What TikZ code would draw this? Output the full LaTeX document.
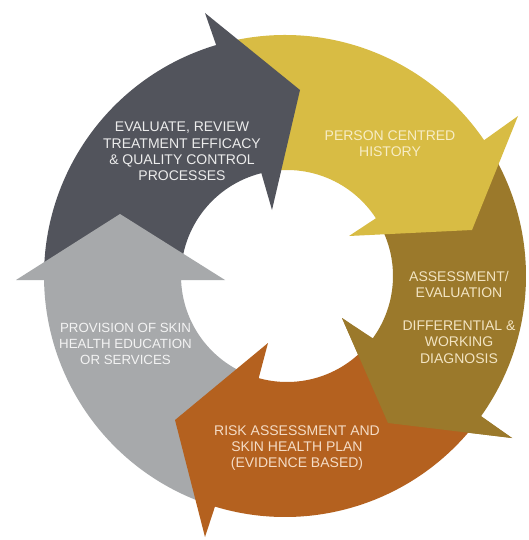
\documentclass[tikz,border=0pt]{standalone}
\usepackage{fontspec}
\setmainfont{Liberation Sans}
\usetikzlibrary{calc}
\definecolor{cdark}{HTML}{52545C}
\definecolor{cyellow}{HTML}{D8BC44}
\definecolor{cbrown}{HTML}{9B792B}
\definecolor{corange}{HTML}{B4611F}
\definecolor{cgrey}{HTML}{A7A9AB}
\definecolor{tdark}{HTML}{ECECEC}
\definecolor{tyellow}{HTML}{F7EDC6}
\definecolor{tbrown}{HTML}{F2E4C2}
\definecolor{torange}{HTML}{F4DCC6}
\definecolor{tgrey}{HTML}{F3F3F3}
\begin{document}
\begin{tikzpicture}[x=1pt,y=1pt,
  lbl/.style={font=\fontsize{14}{16.4}\selectfont, align=center, inner sep=0pt}]
\useasboundingbox (0,0) rectangle (529,-540);
\fill[white] (0,0) rectangle (529,-540);
\coordinate (C) at (285,-276);
\coordinate (Ci) at (287,-276);
% brown arrow (right)
\fill[cbrown] ($(C)+(30:241pt)$) arc[start angle=30, end angle=-35.6, radius=241pt]
  -- (512,-438) -- (388,-423) -- (342,-318) -- ($(Ci)+(-36:106pt)$)
  arc[start angle=-36, end angle=30, radius=106pt] -- cycle;
% yellow arrow (top right)
\fill[cyellow] ($(C)+(102:241pt)$) arc[start angle=102, end angle=34.3, radius=241pt]
  -- (518,-116) -- (472,-230) -- (349,-236) -- ($(Ci)+(33:106pt)$)
  arc[start angle=33, end angle=102, radius=106pt] -- cycle;
% dark grey arrow (top left)
\fill[cdark] ($(C)+(180:241pt)$) arc[start angle=180, end angle=106.6, radius=241pt]
  -- (205,-13) -- (300,-90) -- (272,-210) -- ($(Ci)+(104:106pt)$)
  arc[start angle=104, end angle=180, radius=106pt] -- cycle;
% light grey arrow (left)
\fill[cgrey] ($(C)+(250:241pt)$) arc[start angle=250, end angle=181, radius=241pt]
  -- (16,-280) -- (120,-214) -- (225,-280) -- ($(Ci)+(182.2:106pt)$)
  arc[start angle=182.2, end angle=250, radius=106pt] -- cycle;
% orange arrow (bottom)
\fill[corange] ($(C)+(322:241pt)$) arc[start angle=322, end angle=253.1, radius=241pt]
  -- (205,-537) -- (175,-420) -- (268,-343) -- ($(Ci)+(254.5:106pt)$)
  arc[start angle=254.5, end angle=322, radius=106pt] -- cycle;
% brown arrow head over the orange tail
\fill[cbrown] (512,-438) -- (388,-423) -- (342,-318) -- cycle;
% labels
\node[lbl, text=tdark] (tEval) at (182,-151.5) {EVALUATE, REVIEW\\TREATMENT EFFICACY\\\& QUALITY CONTROL\\PROCESSES};
\node[lbl, text=tyellow] (tHist) at (390,-143.5) {PERSON CENTRED\\HISTORY};
\node[lbl, text=tbrown] (tAssess) at (459,-317) {ASSESSMENT/\\EVALUATION\\[16.4pt]DIFFERENTIAL \&\\WORKING\\DIAGNOSIS};
\node[lbl, text=torange] (tRisk) at (297,-448) {RISK ASSESSMENT AND\\SKIN HEALTH PLAN\\(EVIDENCE BASED)};
\node[lbl, text=tgrey, font=\fontsize{13.3}{16.2}\selectfont] (tProv) at (125.5,-344) {PROVISION OF SKIN\\HEALTH EDUCATION\\OR SERVICES};
\end{tikzpicture}
\end{document}
